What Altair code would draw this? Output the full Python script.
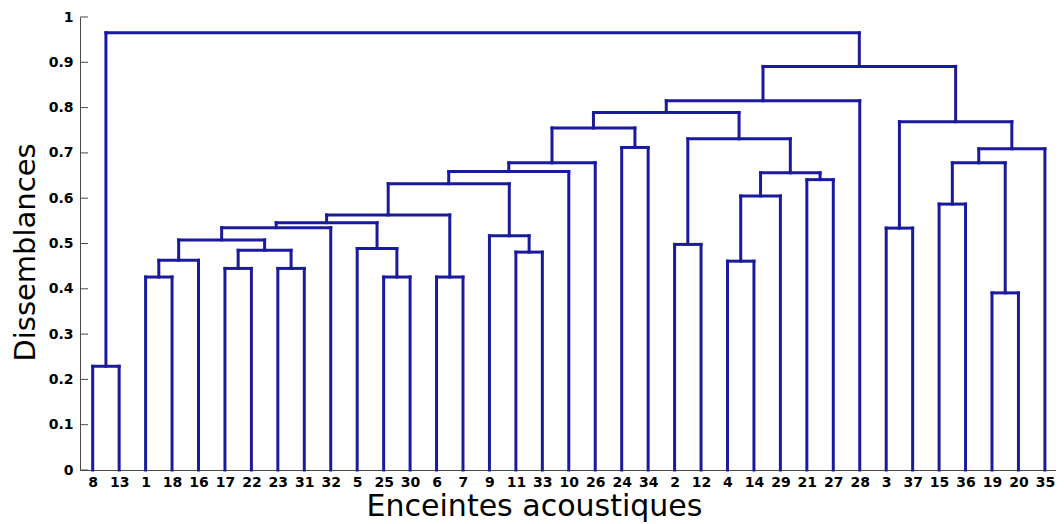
import altair as alt
import pandas as pd

# Leaf order along the x axis (labels shown under each leaf)
leaves = [8, 13, 1, 18, 16, 17, 22, 23, 31, 32, 5, 25, 30, 6, 7, 9, 11, 33, 10,
          26, 24, 34, 2, 12, 4, 14, 29, 21, 27, 28, 3, 37, 15, 36, 19, 20, 35]

# Merges: cluster Ck is formed by joining merge_left[k-1] and merge_right[k-1]
merge_left = ["8", "1", "C2", "17", "23", "C4", "C3", "C7", "25", "5", "C8", "6",
              "C11", "11", "9", "C13", "C16", "C17", "24", "C18", "2", "4", "C22",
              "21", "C23", "C21", "C20", "C27", "3", "15", "19", "C30", "C32",
              "C29", "C28", "C1"]
merge_right = ["13", "18", "16", "22", "31", "C5", "C6", "32", "30", "C9", "C10", "7",
               "C12", "33", "C14", "C15", "10", "26", "34", "C19", "12", "14", "29",
               "27", "C24", "C25", "C26", "28", "37", "36", "20", "C31", "35",
               "C33", "C34", "C35"]
merge_height = [0.229, 0.426, 0.463, 0.445, 0.445, 0.485, 0.508, 0.535, 0.426, 0.489,
                0.546, 0.426, 0.563, 0.481, 0.517, 0.632, 0.659, 0.678, 0.712, 0.755,
                0.498, 0.461, 0.605, 0.641, 0.656, 0.731, 0.789, 0.815, 0.534, 0.587,
                0.391, 0.678, 0.709, 0.769, 0.891, 0.965]

tick_values = [0, 0.1, 0.2, 0.3, 0.4, 0.5, 0.6, 0.7, 0.8, 0.9, 1]

# Build the dendrogram segments from the merge table
pos = {str(l): (i + 1, 0.0) for i, l in enumerate(leaves)}
rows = []
for k, (a, b, h) in enumerate(zip(merge_left, merge_right, merge_height)):
    xa, ha = pos[a]
    xb, hb = pos[b]
    rows.append(dict(x=xa, x2=xa, y=ha, y2=h))
    rows.append(dict(x=xb, x2=xb, y=hb, y2=h))
    rows.append(dict(x=xa, x2=xb, y=h, y2=h))
    pos[f"C{k + 1}"] = ((xa + xb) / 2, h)
seg = pd.DataFrame(rows)
ticks_df = pd.DataFrame({"v": tick_values})

label_arr = "[" + ",".join(f"'{l}'" for l in leaves) + "]"

xscale = alt.Scale(domain=[0.52, 37.42], nice=False, zero=False)
yscale = alt.Scale(domain=[0, 1], nice=False, zero=True)

AXIS_COLOR = "#4a4a4a"
LINE_COLOR = "#1a1a9c"

lines = alt.Chart(seg).mark_rule(color=LINE_COLOR, strokeWidth=3, strokeCap="square").encode(
    x=alt.X("x:Q", scale=xscale, axis=alt.Axis(
        values=list(range(1, len(leaves) + 1)),
        labelExpr=f"{label_arr}[datum.value - 1]",
        labelOverlap=False, labelFlush=False, labelAngle=0,
        labelFont="DejaVu Sans", labelFontWeight="bold", labelFontSize=14,
        labelColor="black", labelPadding=5, labelBaseline="top",
        ticks=False, grid=False, domainColor=AXIS_COLOR, domainWidth=1,
        title="Enceintes acoustiques", titleFont="DejaVu Sans", titleFontSize=30,
        titleFontWeight="normal", titleColor="black", titleX=454, titleY=45,
        titleAlign="center", titleBaseline="alphabetic")),
    x2="x2:Q",
    y=alt.Y("y:Q", scale=yscale, axis=alt.Axis(
        values=tick_values, format=".1~f",
        labelFont="DejaVu Sans", labelFontWeight="bold", labelFontSize=14,
        labelColor="black", labelPadding=7,
        ticks=False, grid=False, domainColor=AXIS_COLOR, domainWidth=1,
        title="Dissemblances", titleFont="DejaVu Sans", titleFontSize=29,
        titleFontWeight="normal", titleColor="black", titleAngle=270,
        titleX=-46, titleY=235, titleAlign="center", titleBaseline="alphabetic")),
    y2="y2:Q",
)

yticks = alt.Chart(ticks_df).mark_rule(color=AXIS_COLOR, strokeWidth=1).encode(
    y=alt.Y("v:Q", scale=yscale),
    x=alt.value(0),
    x2=alt.value(8),
)

chart = alt.layer(yticks, lines).properties(
    width=976, height=453,
    autosize=alt.AutoSizeParams(type="none"),
    padding={"left": 72, "top": 9, "right": 0, "bottom": 54},
    background="white",
).configure_view(stroke=None)

chart.save("out.html", embed_options={"renderer": "svg", "actions": False})
